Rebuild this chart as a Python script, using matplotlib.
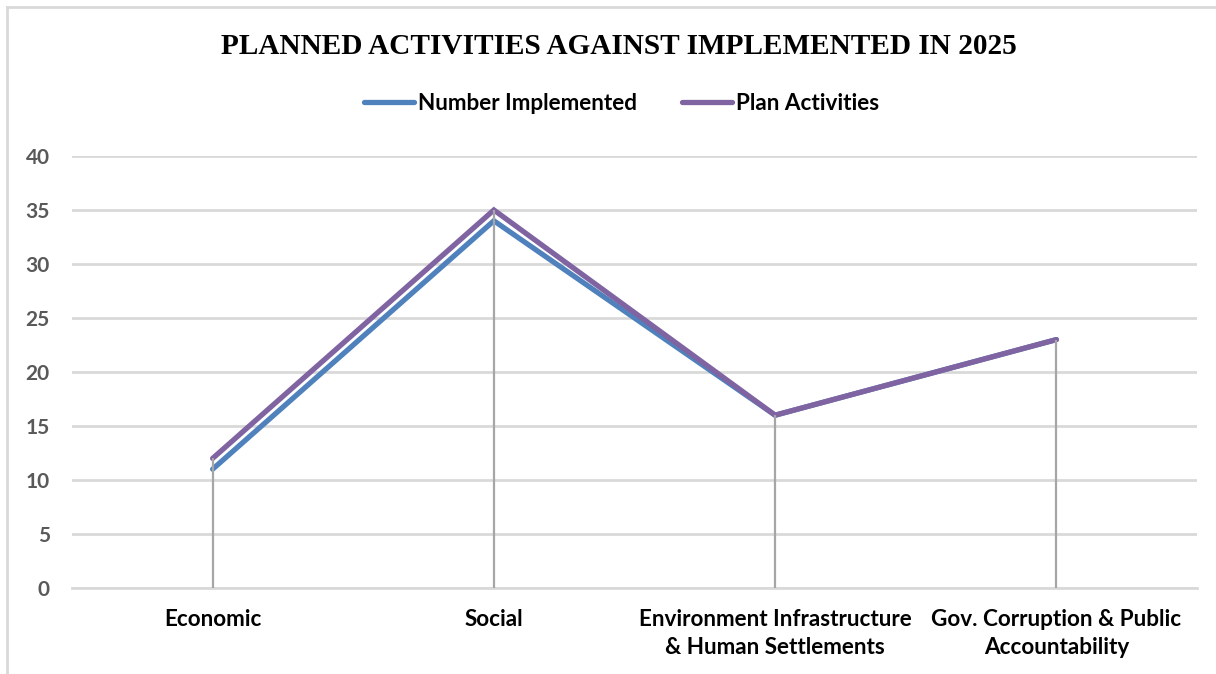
import matplotlib
matplotlib.use("Agg")
import matplotlib.pyplot as plt
from matplotlib.lines import Line2D

categories = ["Economic", "Social", "Environment Infrastructure\n& Human Settlements",
              "Gov. Corruption & Public\nAccountability"]
implemented = [11, 34, 16, 23]
planned = [12, 35, 16, 23]
y_ticks = [0, 5, 10, 15, 20, 25, 30, 35, 40]

W, H = 1216, 674
fig = plt.figure(figsize=(W / 100, H / 100), dpi=100)
fig.patch.set_facecolor("white")

ax = fig.add_axes([72 / W, 1 - 588 / H, (1197 - 72) / W, (588 - 156) / H])
ax.set_xlim(-0.5, len(categories) - 0.5)
ax.set_ylim(0, 40)

grid_c = "#D9D9D9"
ax.set_yticks(y_ticks)
ax.yaxis.grid(True, color=grid_c, linewidth=2)
ax.set_axisbelow(True)
for s in ["top", "right", "left"]:
    ax.spines[s].set_visible(False)
ax.spines["bottom"].set_color(grid_c)
ax.spines["bottom"].set_linewidth(2)

x = list(range(len(categories)))
ax.plot(x, implemented, color="#4F81BD", linewidth=3.8, solid_capstyle="round",
        solid_joinstyle="miter", label="Number Implemented", zorder=3)
ax.plot(x, planned, color="#8064A2", linewidth=3.8, solid_capstyle="round",
        solid_joinstyle="miter", label="Plan Activities", zorder=4)

# drop lines from the highest point of each category down to the axis
tops = [max(a, b) for a, b in zip(implemented, planned)]
ax.vlines(x, 0, tops, color="#A6A6A6", linewidth=1.6, zorder=5)

font = "Lato"
ax.set_xticks(x)
ax.set_xticklabels(categories, fontfamily=font, fontweight="bold", fontsize=16.2,
                   color="black", linespacing=1.45)
ax.tick_params(axis="x", length=0, pad=15)
ax.tick_params(axis="y", length=0, pad=16, labelcolor="#595959")
for lbl in ax.get_yticklabels():
    lbl.set_fontfamily(font)
    lbl.set_fontweight("bold")
    lbl.set_fontsize(15)

fig.text(619 / W, 1 - 46 / H, "PLANNED ACTIVITIES AGAINST IMPLEMENTED IN 2025",
         ha="center", va="center", fontfamily="Liberation Serif", fontweight="bold",
         fontsize=21.1, color="black")

leg = fig.legend(loc="center", bbox_to_anchor=(622 / W, 1 - 103 / H), ncol=2,
                 frameon=False, prop={"family": font, "weight": "bold", "size": 16.2},
                 handlelength=2.2, handletextpad=0.2, columnspacing=2.0)

# outer chart frame (top and left edges)
fig.add_artist(Line2D([7 / W, 1], [1 - 7 / H, 1 - 7 / H], transform=fig.transFigure,
                      color="#D9D9D9", linewidth=2))
fig.add_artist(Line2D([7 / W, 7 / W], [0, 1 - 7 / H], transform=fig.transFigure,
                      color="#D9D9D9", linewidth=2))

fig.savefig("out.png", dpi=100)
